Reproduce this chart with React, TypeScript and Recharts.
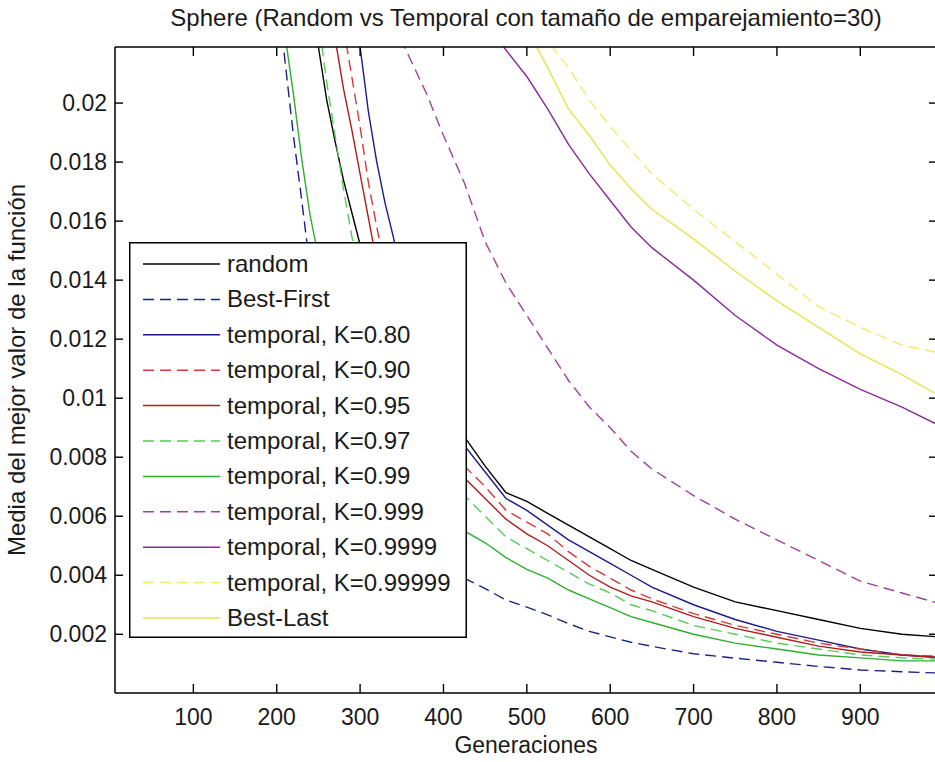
import React from 'react';
import { LineChart, Line, XAxis, YAxis, Legend } from 'recharts';

// Generation numbers at which the mean best value was sampled
const generations = [
  190, 200, 210, 220, 230, 240, 250, 260, 270, 280, 290, 300, 310, 320, 330, 340, 350, 360,
  380, 400, 425, 450, 475, 500, 525, 550, 575, 600, 625, 650, 700, 750, 800, 850, 900, 950, 1000,
];

const random = [
  null, null, null, null, null, 0.0237, 0.0219, 0.0201, 0.0187, 0.0174, 0.0163, 0.0152, 0.01435, 0.0136, 0.0129, 0.0123, 0.0117, 0.0112,
  0.0103, 0.0096, 0.0087, 0.0077, 0.0068, 0.0065, 0.0061, 0.0057, 0.0053, 0.0049, 0.0045, 0.0042, 0.0036, 0.0031, 0.0028, 0.0025, 0.0022, 0.0020, 0.0019,
];
const bestFirst = [
  null, 0.0240, 0.0214, 0.0189, 0.0167, 0.0144, 0.0125, 0.0111, 0.0100, 0.0091, 0.0083, 0.0077, 0.0071, 0.0066, 0.0062, 0.0059, 0.0055, 0.0052,
  0.0047, 0.0043, 0.0039, 0.00355, 0.00316, 0.00292, 0.00266, 0.00236, 0.0021, 0.00191, 0.00173, 0.00159, 0.00134, 0.00119, 0.00105, 0.00091, 0.00079, 0.00073, 0.00068,
];
const temporal080 = [
  null, null, null, null, null, null, null, null, null, null, 0.0241, 0.0219, 0.0197, 0.0180, 0.0166, 0.01545, 0.0141, 0.0129,
  0.0111, 0.0097, 0.0084, 0.0075, 0.0066, 0.0062, 0.0057, 0.0052, 0.0048, 0.0044, 0.0040, 0.0036, 0.0030, 0.0025, 0.0021, 0.0018, 0.0015, 0.0013, 0.0012,
];
const temporal090 = [
  null, null, null, null, null, null, null, null, 0.0243, 0.0226, 0.0209, 0.0192, 0.0173, 0.0158, 0.0144, 0.0132, 0.0122, 0.0113,
  0.0099, 0.0088, 0.0077, 0.0070, 0.0062, 0.0058, 0.0054, 0.0048, 0.0043, 0.0039, 0.0035, 0.0032, 0.0027, 0.0023, 0.0020, 0.0017, 0.0015, 0.0013, 0.00125,
];
const temporal095 = [
  null, null, null, null, null, null, null, 0.0239, 0.0222, 0.0205, 0.0191, 0.0176, 0.0161, 0.0146, 0.0133, 0.0123, 0.0114, 0.0106,
  0.0093, 0.0083, 0.0073, 0.0066, 0.0059, 0.0054, 0.0050, 0.0045, 0.0040, 0.0036, 0.0033, 0.0031, 0.0026, 0.0022, 0.0019, 0.0016, 0.0014, 0.0013, 0.0012,
];
const temporal097 = [
  null, null, null, null, null, 0.0248, 0.0228, 0.0207, 0.0189, 0.0171, 0.0155, 0.0141, 0.0129, 0.0119, 0.0111, 0.0104, 0.0097, 0.0092,
  0.0082, 0.0075, 0.0067, 0.0060, 0.0053, 0.0049, 0.0045, 0.0041, 0.0037, 0.0034, 0.0030, 0.0028, 0.0023, 0.0020, 0.0017, 0.0015, 0.0013, 0.0012, 0.00115,
];
const temporal099 = [
  null, 0.0244, 0.0223, 0.0203, 0.0181, 0.0162, 0.0148, 0.0135, 0.0125, 0.0115, 0.0107, 0.0100, 0.0094, 0.0089, 0.0084, 0.0079, 0.0076, 0.0072,
  0.0066, 0.0061, 0.0055, 0.0051, 0.0046, 0.0042, 0.0039, 0.0035, 0.0032, 0.0029, 0.0026, 0.0024, 0.0020, 0.0017, 0.0015, 0.0013, 0.0012, 0.0011, 0.0011,
];
const temporal0999 = [
  null, null, null, null, null, null, null, null, null, null, null, null, null, null, null, 0.0227, 0.0221, 0.0215,
  0.0203, 0.0189, 0.0173, 0.0153, 0.0139, 0.0128, 0.0117, 0.0106, 0.0097, 0.0090, 0.0082, 0.0076, 0.0067, 0.0059, 0.0052, 0.0045, 0.0038, 0.0034, 0.0030,
];
const temporal09999 = [
  null, null, null, null, null, null, null, null, null, null, null, null, null, null, null, null, null, null,
  null, null, null, 0.0227, 0.0218, 0.0209, 0.0198, 0.0186, 0.0176, 0.0167, 0.0158, 0.0151, 0.0140, 0.0128, 0.0118, 0.0110, 0.0103, 0.0097, 0.0090,
];
const temporal099999 = [
  null, null, null, null, null, null, null, null, null, null, null, null, null, null, null, null, null, null,
  null, null, null, null, null, 0.0235, 0.0221, 0.0212, 0.0201, 0.0192, 0.0184, 0.0176, 0.0164, 0.0153, 0.0142, 0.0131, 0.0124, 0.0118, 0.0115,
];
const bestLast = [
  null, null, null, null, null, null, null, null, null, null, null, null, null, null, null, null, null, null,
  null, null, null, null, null, 0.0225, 0.0212, 0.0198, 0.0189, 0.0179, 0.0171, 0.0164, 0.0154, 0.0143, 0.0133, 0.0124, 0.0115, 0.0108, 0.0100,
];

const xTicks = [100, 200, 300, 400, 500, 600, 700, 800, 900];
const yTicks = [0.002, 0.004, 0.006, 0.008, 0.01, 0.012, 0.014, 0.016, 0.018, 0.02];
const yTickLabels = ['0.002', '0.004', '0.006', '0.008', '0.01', '0.012', '0.014', '0.016', '0.018', '0.02'];

type Series = { key: string; name: string; values: (number | null)[]; color: string; dash?: string };

const series: Series[] = [
  { key: 'random', name: 'random', values: random, color: '#000000' },
  { key: 'bestFirst', name: 'Best-First', values: bestFirst, color: '#1c2280', dash: '11 6' },
  { key: 't080', name: 'temporal, K=0.80', values: temporal080, color: '#1a1a8c' },
  { key: 't090', name: 'temporal, K=0.90', values: temporal090, color: '#d43a3a', dash: '11 6' },
  { key: 't095', name: 'temporal, K=0.95', values: temporal095, color: '#b01c1c' },
  { key: 't097', name: 'temporal, K=0.97', values: temporal097, color: '#55cc55', dash: '11 6' },
  { key: 't099', name: 'temporal, K=0.99', values: temporal099, color: '#2fae2f' },
  { key: 't0999', name: 'temporal, K=0.999', values: temporal0999, color: '#a0409c', dash: '11 6' },
  { key: 't09999', name: 'temporal, K=0.9999', values: temporal09999, color: '#8a2a9a' },
  { key: 't099999', name: 'temporal, K=0.99999', values: temporal099999, color: '#ecec6a', dash: '11 6' },
  { key: 'bestLast', name: 'Best-Last', values: bestLast, color: '#e4e44c' },
];

const data = generations.map((g, i) => {
  const row: Record<string, number | null> = { g };
  series.forEach((s) => {
    row[s.key] = s.values[i];
  });
  return row;
});

const FONT = '"Liberation Sans", Arial, Helvetica, sans-serif';
const TEXT = '#1a1a1a';

const BottomTick = (props: any) => {
  const { x, y, payload } = props;
  return (
    <g>
      <line x1={x} y1={y} x2={x} y2={y - 9} stroke="#000" strokeWidth={1.4} />
      <text x={x} y={y + 32} textAnchor="middle" fontSize={23} fontFamily={FONT} fill={TEXT}>
        {payload.value}
      </text>
    </g>
  );
};

const TopTick = (props: any) => {
  const { x, y } = props;
  return <line x1={x} y1={y} x2={x} y2={y + 9} stroke="#000" strokeWidth={1.4} />;
};

const LeftTick = (props: any) => {
  const { x, y, payload, index } = props;
  const label = yTickLabels[index] ?? String(payload.value);
  return (
    <g>
      <line x1={x} y1={y} x2={x + 8} y2={y} stroke="#000" strokeWidth={1.4} />
      <text x={x - 8} y={y + 8} textAnchor="end" fontSize={23} fontFamily={FONT} fill={TEXT}>
        {label}
      </text>
    </g>
  );
};

const RightTick = (props: any) => {
  const { x, y } = props;
  return <line x1={x} y1={y} x2={x - 8} y2={y} stroke="#000" strokeWidth={1.4} />;
};

const LegendBox = () => (
  <svg width={338} height={396} style={{ display: 'block' }}>
    <rect x={0.75} y={0.75} width={336.5} height={394.5} fill="#fff" stroke="#000" strokeWidth={1.5} />
    {series.map((s, i) => {
      const cy = 22 + i * 35.4;
      return (
        <g key={s.key}>
          <line x1={14} x2={91} y1={cy} y2={cy} stroke={s.color} strokeWidth={1.5} strokeDasharray={s.dash} />
          <text x={98} y={cy + 8} fontSize={24} fontFamily={FONT} fill={TEXT}>
            {s.name}
          </text>
        </g>
      );
    })}
  </svg>
);

export default function App() {
  return (
    <div
      style={{
        position: 'absolute',
        left: 0,
        top: 0,
        width: 935,
        height: 762,
        overflow: 'hidden',
        background: '#fff',
      }}
    >
      <LineChart width={945} height={762} data={data} margin={{ top: 0, right: 0, bottom: 0, left: 0 }}>
        <XAxis
          dataKey="g"
          type="number"
          domain={[6, 992]}
          allowDataOverflow
          ticks={xTicks}
          interval={0}
          height={69}
          tickSize={0}
          tickMargin={0}
          tickLine={false}
          axisLine={{ stroke: '#000', strokeWidth: 1.5 }}
          tick={<BottomTick />}
        />
        <XAxis
          xAxisId="top"
          orientation="top"
          dataKey="g"
          type="number"
          domain={[6, 992]}
          allowDataOverflow
          ticks={xTicks}
          interval={0}
          height={47}
          tickSize={0}
          tickMargin={0}
          tickLine={false}
          axisLine={{ stroke: '#000', strokeWidth: 1.5 }}
          tick={<TopTick />}
        />
        <YAxis
          type="number"
          domain={[0.00001, 0.0219]}
          allowDataOverflow
          ticks={yTicks}
          interval={0}
          width={115}
          tickSize={0}
          tickMargin={0}
          tickLine={false}
          axisLine={{ stroke: '#000', strokeWidth: 1.5 }}
          tick={<LeftTick />}
        />
        <YAxis
          yAxisId="right"
          orientation="right"
          type="number"
          domain={[0.00001, 0.0219]}
          allowDataOverflow
          ticks={yTicks}
          interval={0}
          width={8}
          tickSize={0}
          tickMargin={0}
          tickLine={false}
          axisLine={{ stroke: '#000', strokeWidth: 1.5 }}
          tick={<RightTick />}
        />
        {series.map((s) => (
          <Line
            key={s.key}
            dataKey={s.key}
            name={s.name}
            type="linear"
            stroke={s.color}
            strokeWidth={1.4}
            strokeDasharray={s.dash}
            dot={false}
            activeDot={false}
            isAnimationActive={false}
          />
        ))}
        <Legend
          layout="vertical"
          align="center"
          verticalAlign="middle"
          wrapperStyle={{ left: 129, top: 242, width: 338, height: 396 }}
          content={<LegendBox />}
        />
        <text x={526} y={26} textAnchor="middle" fontSize={24} fontFamily={FONT} fill={TEXT}>
          Sphere (Random vs Temporal con tamaño de emparejamiento=30)
        </text>
        <text x={526} y={753} textAnchor="middle" fontSize={23} fontFamily={FONT} fill={TEXT}>
          Generaciones
        </text>
        <text
          x={0}
          y={0}
          transform="translate(25 370) rotate(-90)"
          textAnchor="middle"
          fontSize={24}
          fontFamily={FONT}
          fill={TEXT}
        >
          Media del mejor valor de la función
        </text>
      </LineChart>
    </div>
  );
}
